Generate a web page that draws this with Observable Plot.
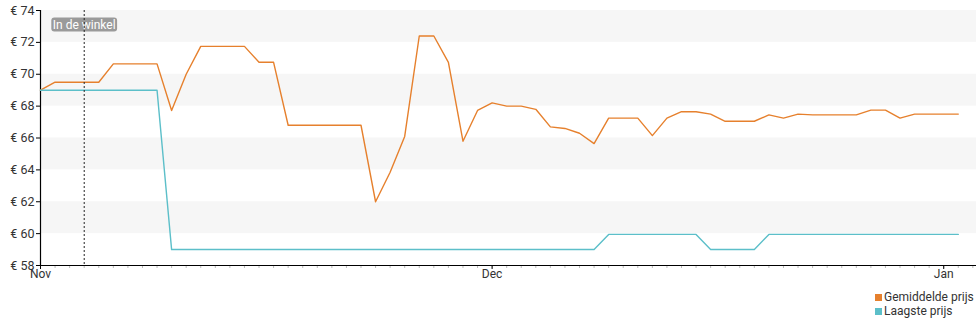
<!DOCTYPE html>
<html>
<head>
<meta charset="utf-8">
<script src="https://cdn.jsdelivr.net/npm/d3@7"></script>
<script src="https://cdn.jsdelivr.net/npm/@observablehq/plot@0.6"></script>
<style>
  body { margin: 0; background: #fff; font-family: Roboto, "Noto Sans", sans-serif; }
  #wrap { position: relative; width: 980px; height: 325px; }
  #legend { position: absolute; left: 875px; top: 290px; font-size: 12px; color: #333; line-height: 14px; }
  #legend div { display: flex; align-items: center; white-space: nowrap; }
  #legend span.sw { display: inline-block; width: 7px; height: 7px; margin-right: 2px; }
</style>
</head>
<body>
<div id="wrap">
  <div id="chart"></div>
  <div id="legend"></div>
</div>
<script>
// Day index 0 = start of chart ("Nov" tick), one point per day
const avgPrice = [
  69.0, 69.5, 69.5, 69.5, 69.5, 70.65, 70.65, 70.65, 70.65, 67.73,
  70.0, 71.75, 71.75, 71.75, 71.75, 70.75, 70.75, 66.8, 66.8, 66.8,
  66.8, 66.8, 66.8, 62.0, 63.85, 66.1, 72.4, 72.4, 70.75, 65.8,
  67.73, 68.2, 68.0, 68.0, 67.8, 66.7, 66.6, 66.3, 65.65, 67.25,
  67.25, 67.25, 66.15, 67.25, 67.65, 67.65, 67.5, 67.05, 67.05, 67.05,
  67.45, 67.25, 67.5, 67.45, 67.45, 67.45, 67.45, 67.75, 67.75, 67.25,
  67.5, 67.5, 67.5, 67.5
];
const lowPrice = [
  69.0, 69.0, 69.0, 69.0, 69.0, 69.0, 69.0, 69.0, 69.0, 59.0,
  59.0, 59.0, 59.0, 59.0, 59.0, 59.0, 59.0, 59.0, 59.0, 59.0,
  59.0, 59.0, 59.0, 59.0, 59.0, 59.0, 59.0, 59.0, 59.0, 59.0,
  59.0, 59.0, 59.0, 59.0, 59.0, 59.0, 59.0, 59.0, 59.0, 59.95,
  59.95, 59.95, 59.95, 59.95, 59.95, 59.95, 59.0, 59.0, 59.0, 59.0,
  59.95, 59.95, 59.95, 59.95, 59.95, 59.95, 59.95, 59.95, 59.95, 59.95,
  59.95, 59.95, 59.95, 59.95
];
const seriesNames = ["Gemiddelde prijs", "Laagste prijs"];
const seriesColors = ["#e6802d", "#5cbfc9"];
const monthTicks = [0, 31, 62];
const monthLabels = ["Nov", "Dec", "Jan"];
const yTicks = [58, 60, 62, 64, 66, 68, 70, 72, 74];
const bandStarts = [60, 64, 68, 72];
const bandWidth = 2;
const storeEventDay = [3];
const storeEventLabel = "In de winkel";
const xDomain = [0, 64.25];
const yDomain = [58, 74];

const rows = [];
avgPrice.forEach((v, i) => rows.push({day: i, price: v, series: seriesNames[0]}));
lowPrice.forEach((v, i) => rows.push({day: i, price: v, series: seriesNames[1]}));
const days = d3.range(0, Math.floor(xDomain[1]) + 1);

const chart = Plot.plot({
  width: 980,
  height: 285,
  marginLeft: 40,
  marginRight: 4,
  marginTop: 10,
  marginBottom: 20,
  style: {fontFamily: "Roboto, sans-serif", fontSize: "12px", color: "#333", background: "#fff"},
  x: {domain: xDomain, label: null},
  y: {domain: yDomain, label: null},
  color: {domain: seriesNames, range: seriesColors},
  marks: [
    Plot.rect(bandStarts, {x1: xDomain[0], x2: xDomain[1], y1: d => d, y2: d => d + bandWidth, fill: "#f6f6f6"}),
    Plot.axisX({ticks: days, tickSize: 3, tickFormat: () => "", stroke: "#bbb", label: null}),
    Plot.axisX({ticks: monthTicks, tickSize: 4, tickPadding: 0, tickFormat: (d, i) => monthLabels[i], fill: "#333", fontSize: 12, stroke: "#000", label: null}),
    Plot.axisY({ticks: yTicks, tickSize: 4, tickPadding: 2, tickFormat: d => "€ " + d, fill: "#333", fontSize: 12.5, stroke: "#000", label: null}),
    Plot.ruleY([yDomain[0]], {stroke: "#000", strokeWidth: 1.2}),
    Plot.ruleX([xDomain[0]], {stroke: "#000", strokeWidth: 1.2}),
    Plot.line(rows, {x: "day", y: "price", stroke: "series", strokeWidth: 1.4}),
    Plot.text(storeEventDay, {x: d => d, text: () => storeEventLabel, frameAnchor: "top", dy: 9.5, fill: "#fff", fontSize: 12, className: "eventlabel"}),
    Plot.ruleX(storeEventDay, {stroke: "#222", strokeDasharray: "2,2"})
  ]
});
document.getElementById("chart").appendChild(chart);

// Rounded gray background behind the event label
const lbl = chart.querySelector(".eventlabel text");
if (lbl) {
  const bb = lbl.getBBox();
  const g = lbl.parentNode;
  const r = document.createElementNS("http://www.w3.org/2000/svg", "rect");
  r.setAttribute("x", bb.x - 1.5);
  r.setAttribute("y", bb.y);
  r.setAttribute("width", bb.width + 3);
  r.setAttribute("height", bb.height);
  r.setAttribute("rx", 3);
  r.setAttribute("fill", "#9a9a9a");
  const tr = lbl.getAttribute("transform");
  if (tr) r.setAttribute("transform", tr);
  g.insertBefore(r, lbl);
}

const legend = d3.select("#legend");
seriesNames.forEach((n, i) => {
  const row = legend.append("div");
  row.append("span").attr("class", "sw").style("background", seriesColors[i]);
  row.append("span").text(n);
});
</script>
</body>
</html>
